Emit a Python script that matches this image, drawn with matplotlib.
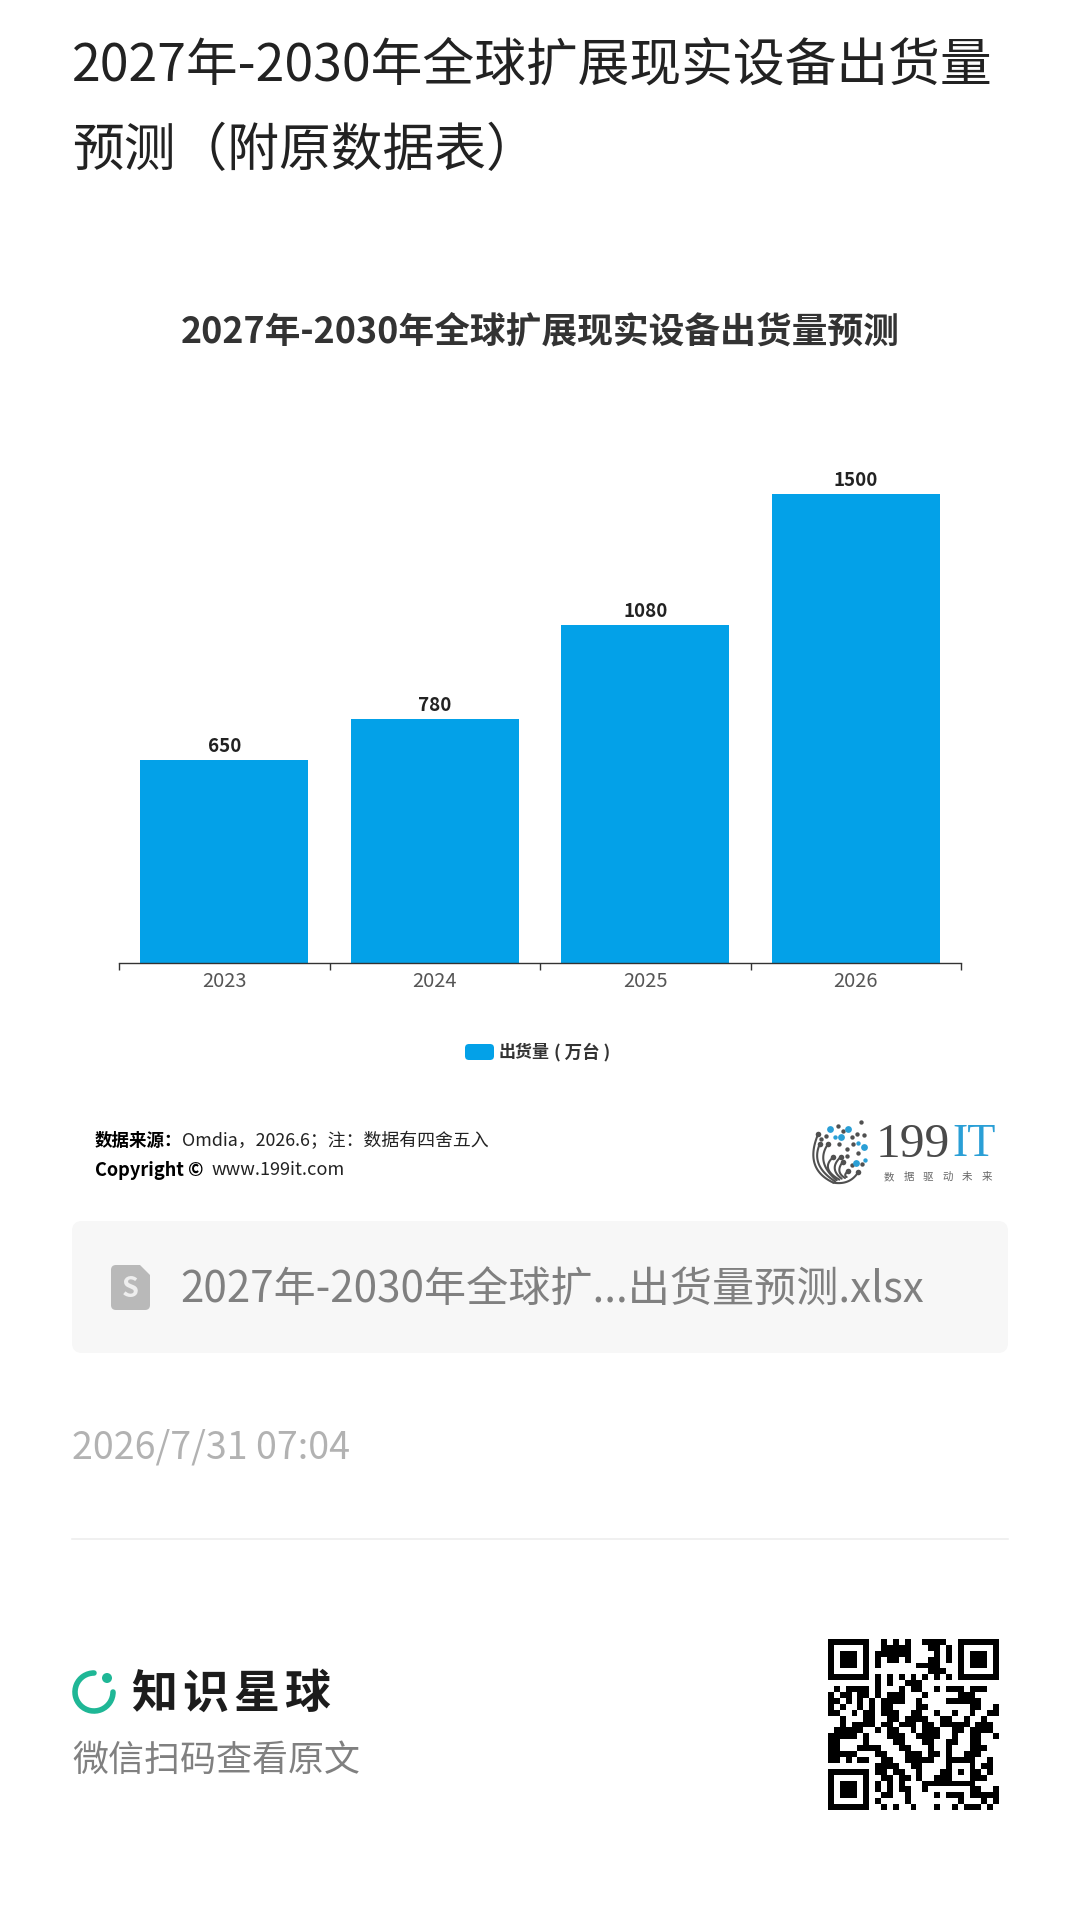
import numpy as np
import matplotlib
matplotlib.use("Agg")
from matplotlib import pyplot as plt
from matplotlib.patches import FancyBboxPatch, Arc, Circle, Polygon

plt.rcParams['font.family'] = ['Noto Sans CJK SC', 'DejaVu Sans']

years = ["2023", "2024", "2025", "2026"]
shipments = [650, 780, 1080, 1500]
series_name = "出货量"
series_unit = "( 万台 )"
page_title = ["2027年-2030年全球扩展现实设备出货量", "预测（附原数据表）"]
chart_title = "2027年-2030年全球扩展现实设备出货量预测"
file_name = "2027年-2030年全球扩...出货量预测.xlsx"
date_text = "2026/7/31 07:04"

# copy of the qr code, 29 modules
qr_rows = [
    "#######..#.#.#..####..#######",
    "#.....#..#####...##.#.#.....#",
    "#.###.#.######....#.#.#.###.#",
    "#.###.#.#.##.#...##.#.#.###.#",
    "#.###.#.#......####...#.###.#",
    "#.....#..........###..#.....#",
    "#######.#.#.#.#.#.#.#.#######",
    "........#.#..###.............",
    ".#.####.#...#.##..#.###.###..",
    "#.##.##.#.###...#.....###....",
    "##.#.#.#.####..#....######...",
    "#.#..#.#.##....##.......##..#",
    "##..#.##.###..##..#..#..#..##",
    "..#...##..##.####..##..#..#..",
    "..#.####.##.###.##.#####.###.",
    ".#####..#.##..#.###..##.####.",
    "#####.#...###..####..#..##..#",
    "##....#....##...##..##..##...",
    "##...####...##...#..#...###..",
    "#####...##...###.##.#..###...",
    "##.#.##..##..#####..#####..#.",
    "........####..##....#...#.##.",
    "#######.##.##..#...##.#.##.#.",
    "#.....#..##.##.#..###...###..",
    "#.###.#.#.#.#...#########....",
    "#.###.#.#.#.##..#.......##..#",
    "#.###.#..##..#....#.###.#####",
    "#.....#.#....#........#...#.#",
    "#######..#.#..#...#..#.###.#.",
]

# 199IT logo, measured from a crop (3x, origin 800,1112)
logo_ribs = [((100, 212), (10, 170), (55, 65)), ((105, 208), (30, 160), (60, 95)),
             ((110, 205), (45, 150), (85, 95)), ((118, 203), (60, 170), (100, 135)),
             ((125, 200), (85, 170), (122, 135)), ((135, 198), (105, 180), (128, 150)),
             ((140, 195), (130, 190), (143, 178)), ((100, 212), (150, 220), (175, 180))]
logo_dark = [(115, 42), (183, 30), (128, 58), (172, 66), (192, 70), (155, 74), (78, 72), (62, 80),
             (118, 95), (140, 110), (158, 97), (173, 124), (140, 132), (185, 155), (155, 160)]
logo_blue = [(90, 52), (145, 52), (124, 76), (193, 106), (168, 153)]
logo_blue_small = [(104, 76), (175, 92), (196, 143)]

W, H = 1080, 1909
BLUE = "#03a1e8"
LOGO_BLUE = "#2a9fd6"
fig = plt.figure(figsize=(W / 100, H / 100), dpi=100, facecolor="white")


def px(size):
    return size * 0.72


def logo_xy(p):
    return 800 + p[0] / 3, 1112 + p[1] / 3


# page layer uses pixel coords
bg = fig.add_axes([0, 0, 1, 1])
bg.set_xlim(0, W)
bg.set_ylim(H, 0)
bg.axis("off")

bg.text(72, 66, page_title[0], fontsize=px(51.8), color="#222222", va="center")
bg.text(72, 151, page_title[1], fontsize=px(51.8), color="#222222", va="center")
bg.text(540, 332, chart_title, fontsize=px(35.8), color="#333333", va="center", ha="center", fontweight="bold")

# legend
bg.add_patch(FancyBboxPatch((468, 1047), 23, 10, boxstyle="round,pad=3,rounding_size=4", fc=BLUE, ec="none"))
bg.text(499, 1052, series_name, fontsize=px(17), color="#333333", va="center", fontweight="bold")
bg.text(554, 1052, series_unit, fontsize=px(17.5), color="#333333", va="center", fontweight="bold")

# source lines
bg.text(95, 1141, "数据来源：", fontsize=px(17.5), color="black", va="center", fontweight="bold")
bg.text(182, 1141, "Omdia，2026.6；注：数据有四舍五入", fontsize=px(17.9), color="#222222", va="center")
bg.text(95, 1170, "Copyright ©", fontsize=px(18.2), color="black", va="center", fontweight="bold")
bg.text(212, 1170, "www.199it.com", fontsize=px(18.2), color="#222222", va="center")

# 199IT logo
t = np.linspace(0, 1, 30)
for p0, p1, p2 in logo_ribs:
    a, b, c = logo_xy(p0), logo_xy(p1), logo_xy(p2)
    xs = (1 - t) ** 2 * a[0] + 2 * t * (1 - t) * b[0] + t ** 2 * c[0]
    ys = (1 - t) ** 2 * a[1] + 2 * t * (1 - t) * b[1] + t ** 2 * c[1]
    bg.plot(xs, ys, color="#505050", lw=1.5, solid_capstyle="round")
    bg.scatter(*c, s=16, color="#505050", lw=0, zorder=3)
bg.scatter(*zip(*[logo_xy(p) for p in logo_dark]), s=10, color="#505050", lw=0, zorder=3)
bg.scatter(*zip(*[logo_xy(p) for p in logo_blue]), s=24, color=LOGO_BLUE, lw=0, zorder=4)
bg.scatter(*zip(*[logo_xy(p) for p in logo_blue_small]), s=10, color=LOGO_BLUE, lw=0, zorder=4)
bg.text(876, 1145, "199", fontsize=px(49.5), family="Liberation Serif", color="#4a4a4a", va="center")
bg.text(952, 1145, "IT", fontsize=px(46), family="Liberation Serif", color=LOGO_BLUE, va="center")
for i, ch in enumerate("数据驱动未来"):
    bg.text(889 + i * 19.5, 1177, ch, fontsize=px(10.5), color="#666666", va="center", ha="center")

# file card
bg.add_patch(FancyBboxPatch((80, 1229), 920, 116, boxstyle="round,pad=8,rounding_size=10", fc="#f7f7f7", ec="none"))
bg.add_patch(FancyBboxPatch((114, 1268), 33, 39, boxstyle="round,pad=3,rounding_size=5", fc="#b9b9b9", ec="none"))
bg.add_patch(Polygon([(138, 1263), (152, 1263), (152, 1277)], closed=True, fc="#f7f7f7", ec="none"))
bg.text(130.5, 1289, "S", fontsize=px(27), color="#eeeeee", va="center", ha="center", fontweight="bold")
bg.text(180, 1291, file_name, fontsize=px(42.1), color="#808080", va="center")

bg.text(72, 1448, date_text, fontsize=px(37.6), color="#b2b2b2", va="center")
bg.plot([72, 1008], [1539, 1539], color="#eeeeee", lw=1.2)

# zsxq brand
bg.add_patch(Arc((94, 1692), 38, 38, theta1=0, theta2=270, color="#1fb796", lw=4, capstyle="round"))
bg.add_patch(Circle((107, 1678), 5, fc="#1fb796", ec="none"))
for i, ch in enumerate("知识星球"):
    bg.text(154 + i * 51, 1694, ch, fontsize=px(46), color="#1c1c1c", va="center", ha="center", fontweight="bold")
bg.text(72, 1761, "微信扫码查看原文", fontsize=px(36), color="#808080", va="center")

# qr code
qr = np.array([[1 if c == "#" else 0 for c in r] for r in qr_rows])
bg.imshow(1 - qr, cmap="gray", vmin=0, vmax=1, extent=(828, 999, 1810, 1639), interpolation="nearest", aspect="auto")
bg.set_xlim(0, W)
bg.set_ylim(H, 0)

# the chart itself
ax = fig.add_axes([119 / W, 1 - 963 / H, (961 - 119) / W, (963 - 494) / H])
ax.patch.set_alpha(0)
xpos = np.arange(len(years))
bars = ax.bar(xpos, shipments, width=0.8, color=BLUE)
ax.bar_label(bars, labels=[str(v) for v in shipments], padding=3, fontsize=px(18.8), fontweight="bold", color="#222222")
ax.set_xlim(-0.5, len(years) - 0.5)
ax.set_ylim(0, 1500)
ax.set_yticks([])
for s in ["left", "right", "top"]:
    ax.spines[s].set_visible(False)
ax.spines["bottom"].set_color("#333333")
ax.spines["bottom"].set_linewidth(1)
ax.set_xticks(np.arange(len(years) + 1) - 0.5)
ax.set_xticklabels([])
ax.tick_params(axis="x", which="major", length=5, width=1, color="#333333")
ax.set_xticks(xpos, minor=True)
ax.set_xticklabels(years, minor=True)
ax.tick_params(axis="x", which="minor", length=0, pad=6, labelsize=px(20), labelcolor="#555555")

fig.savefig("out.png", dpi=100)
